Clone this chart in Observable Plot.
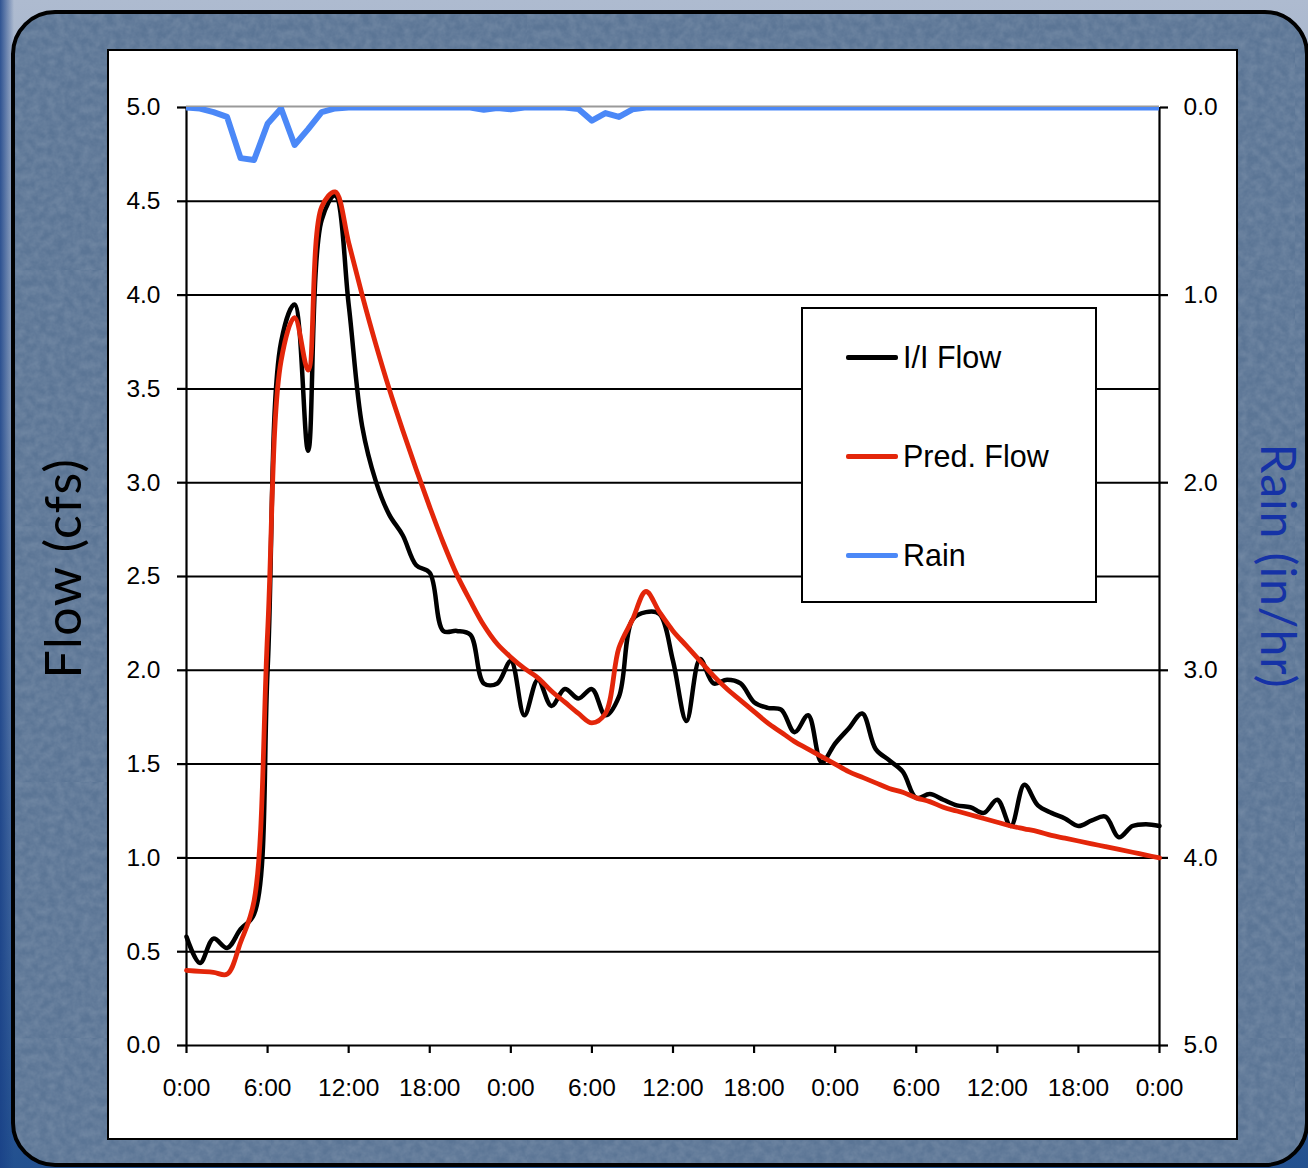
<!DOCTYPE html>
<html>
<head>
<meta charset="utf-8">
<script src="https://cdn.jsdelivr.net/npm/d3@7"></script>
<script src="https://cdn.jsdelivr.net/npm/@observablehq/plot@0.6"></script>
<style>
  html, body { margin: 0; padding: 0; }
  body {
    width: 1308px; height: 1168px; overflow: hidden; position: relative;
    background:
      linear-gradient(to right, rgba(25, 65, 135, 0.85) 0px, rgba(25, 65, 135, 0) 14px),
      linear-gradient(to bottom, #aebbd0 0%, #8fa3c0 35%, #4a6ea3 70%, #22508f 100%);
  }
  #frame {
    position: absolute; left: 11px; top: 10px; width: 1298px; height: 1157px;
    box-sizing: border-box; border: 4.5px solid #000; border-radius: 44px;
    background-color: #5b7595;
    background-image: url("data:image/svg+xml;utf8,<svg xmlns='http://www.w3.org/2000/svg' width='256' height='256'><filter id='n'><feTurbulence type='fractalNoise' baseFrequency='0.12' numOctaves='3' seed='5'/><feColorMatrix values='0 0 0 0 1  0 0 0 0 1  0 0 0 0 1  0.2 0 0 0 -0.05'/></filter><rect width='100%' height='100%' filter='url(%23n)'/></svg>");
  }
  #panel {
    position: absolute; left: 107px; top: 49px; width: 1131px; height: 1091px;
    box-sizing: border-box; border: 2.5px solid #000; background: #fff;
  }
  #chart { position: absolute; left: 0; top: 0; }
  .title {
    position: absolute; font-family: Lato, "Open Sans", sans-serif;
    white-space: nowrap; line-height: 1;
  }
  #flowTitle {
    left: 62px; top: 568px; color: #000; font-size: 50px; letter-spacing: 1.5px;
    transform: translate(-50%, -50%) rotate(-90deg);
  }
  #rainTitle {
    left: 1279px; top: 566px; color: #1532a6; font-size: 48px; letter-spacing: 1px;
    transform: translate(-50%, -50%) rotate(90deg);
  }
  #legend {
    position: absolute; left: 801px; top: 307px; width: 296px; height: 296px;
    box-sizing: border-box; border: 2px solid #000; background: #fff;
  }
  .key { position: absolute; left: 43px; width: 52px; height: 5px; border-radius: 2px; }
  .keyLabel {
    position: absolute; left: 100px; font-family: "Liberation Sans", Arial, Helvetica, sans-serif;
    font-size: 30.5px; line-height: 30px; color: #000; white-space: nowrap;
  }
</style>
</head>
<body>
<div id="frame"></div>
<div id="panel"></div>
<div id="chart"></div>
<div id="flowTitle" class="title">Flow (cfs)</div>
<div id="rainTitle" class="title">Rain (in/hr)</div>
<div id="legend"></div>
<script>
// Hourly time steps over three days (0 = midnight of day one)
const hours = Array.from({length: 73}, (_, i) => i);

// Observed infiltration/inflow (cfs), hourly
const flowObserved = [
  0.58, 0.44, 0.57, 0.52, 0.62, 0.70, 2.00, 3.75, 3.95, 3.17,
  4.40, 4.53, 3.95, 3.30, 3.01, 2.83, 2.72, 2.56, 2.52, 2.21,
  2.21, 2.19, 1.93, 1.93, 2.05, 1.76, 1.95, 1.81, 1.90, 1.85,
  1.90, 1.76, 1.86, 2.27, 2.31, 2.30, 2.05, 1.73, 2.06, 1.93,
  1.95, 1.93, 1.83, 1.80, 1.79, 1.67, 1.76, 1.51, 1.61, 1.69,
  1.77, 1.58, 1.52, 1.46, 1.32, 1.34, 1.31, 1.28, 1.27, 1.24,
  1.31, 1.17, 1.39, 1.28, 1.24, 1.21, 1.17, 1.20, 1.22, 1.11,
  1.17, 1.18, 1.17
];

// Predicted flow from the rainfall-response model (cfs), hourly
const flowPredicted = [
  0.40, 0.395, 0.39, 0.38, 0.55, 0.77, 2.20, 3.65, 3.88, 3.60,
  4.47, 4.55, 4.28, 4.00, 3.74, 3.50, 3.28, 3.07, 2.87, 2.68,
  2.51, 2.37, 2.24, 2.14, 2.07, 2.01, 1.96, 1.89, 1.83, 1.77,
  1.72, 1.77, 2.12, 2.27, 2.42, 2.31, 2.21, 2.13, 2.05, 1.97,
  1.90, 1.84, 1.78, 1.72, 1.67, 1.62, 1.58, 1.54, 1.50, 1.46,
  1.43, 1.40, 1.37, 1.35, 1.32, 1.30, 1.27, 1.25, 1.23, 1.21,
  1.19, 1.17, 1.155, 1.14, 1.12, 1.105, 1.09, 1.075, 1.06, 1.045,
  1.03, 1.015, 1.00
];

// Rainfall intensity (in/hr), hourly
const rainfall = [
  0, 0.006, 0.025, 0.05, 0.27, 0.28, 0.087, 0.005, 0.20, 0.115,
  0.025, 0.005, 0, 0, 0, 0, 0, 0, 0, 0,
  0, 0, 0.012, 0.003, 0.01, 0, 0, 0, 0, 0.008,
  0.07, 0.03, 0.05, 0.01, 0, 0, 0, 0, 0, 0,
  0, 0, 0, 0, 0, 0, 0, 0, 0, 0,
  0, 0, 0, 0, 0, 0, 0, 0, 0, 0,
  0, 0, 0, 0, 0, 0, 0, 0, 0, 0,
  0, 0, 0
];

// Axis ticks
const flowTicks = [0, 0.5, 1, 1.5, 2, 2.5, 3, 3.5, 4, 4.5, 5];
const gridLevels = [0.5, 1, 1.5, 2, 2.5, 3, 3.5, 4, 4.5];
const rainTicks = [0, 1, 2, 3, 4, 5];
const timeTicks = [0, 6, 12, 18, 24, 30, 36, 42, 48, 54, 60, 66, 72];

// Series names and colours
const seriesNames = ["I/I Flow", "Pred. Flow", "Rain"];
const seriesColors = ["#000000", "#e3260a", "#4b88f7"];

const flowMax = 5; // rain axis is drawn inverted from the top of the flow axis

const table = hours.map((h, i) => ({
  hour: h,
  observed: flowObserved[i],
  predicted: flowPredicted[i],
  rain: rainfall[i]
}));

const tickFont = "'Liberation Sans', Arial, Helvetica, sans-serif";

const chart = Plot.plot({
  width: 1308,
  height: 1168,
  marginLeft: 186,
  marginRight: 149,
  marginTop: 107,
  marginBottom: 123,
  style: {background: "transparent", fontFamily: tickFont, fontSize: "24px", color: "#000", overflow: "visible"},
  x: {domain: [0, 72]},
  y: {domain: [0, flowMax]},
  marks: [
    Plot.ruleY(gridLevels, {stroke: "#000", strokeWidth: 2}),
    Plot.ruleY([flowMax], {stroke: "#9a9a9a", strokeWidth: 2.2, dy: -1}),
    Plot.ruleY([0], {stroke: "#000", strokeWidth: 2.2}),
    Plot.ruleX([0, 72], {stroke: "#000", strokeWidth: 2.2}),
    Plot.axisY({
      ticks: flowTicks, tickSize: 9, tickPadding: 17, strokeWidth: 2.2,
      tickFormat: d3.format(".1f"), fontSize: 24.5, label: null
    }),
    Plot.axisY({
      anchor: "right", ticks: rainTicks, tickSize: 8, tickPadding: 16, strokeWidth: 2.2,
      tickFormat: v => (flowMax - v).toFixed(1), fontSize: 24.5, label: null
    }),
    Plot.axisX({
      ticks: timeTicks, tickSize: 8, tickPadding: 25, strokeWidth: 2.2,
      tickFormat: h => `${h % 24}:00`, fontSize: 24.5, label: null
    }),
    Plot.line(table, {
      x: "hour", y: "observed", stroke: seriesColors[0], strokeWidth: 4.5, curve: "catmull-rom"
    }),
    Plot.line(table, {
      x: "hour", y: "predicted", stroke: seriesColors[1], strokeWidth: 4.8, curve: "catmull-rom"
    }),
    Plot.line(table, {
      x: "hour", y: d => flowMax - d.rain, stroke: seriesColors[2], strokeWidth: 6, clip: true
    })
  ]
});
document.getElementById("chart").appendChild(chart);

// Legend box with a line swatch per series
const legend = document.getElementById("legend");
const rowCentres = [48, 147, 246];
seriesNames.forEach((name, i) => {
  const key = document.createElement("div");
  key.className = "key";
  key.style.top = (rowCentres[i] - 2.5) + "px";
  key.style.background = seriesColors[i];
  legend.appendChild(key);
  const lab = document.createElement("div");
  lab.className = "keyLabel";
  lab.style.top = (rowCentres[i] - 15) + "px";
  lab.textContent = name;
  legend.appendChild(lab);
});
</script>
</body>
</html>
